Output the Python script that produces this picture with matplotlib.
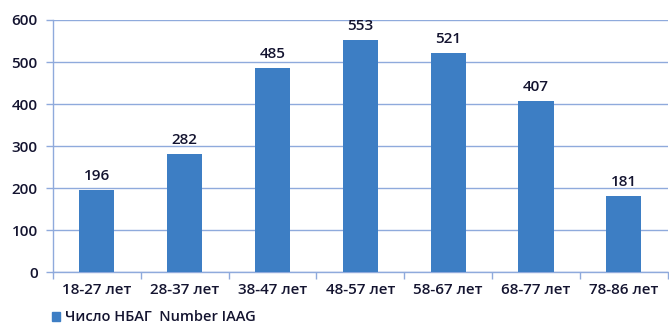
import matplotlib
matplotlib.use("Agg")
import matplotlib.pyplot as plt
from matplotlib.patches import Patch

categories = ["18-27 лет", "28-37 лет", "38-47 лет", "48-57 лет", "58-67 лет", "68-77 лет", "78-86 лет"]
values = [196, 282, 485, 553, 521, 407, 181]
series_label = "Число НБАГ  Number IAAG"
yticks = [0, 100, 200, 300, 400, 500, 600]

plt.rcParams['font.family'] = ['Open Sans', 'DejaVu Sans']
bar_color = "#3D7EC4"
grid_color = "#8FAADC"
text_color = "#141430"
fs = 11
fw = "semibold"

fig = plt.figure(figsize=(6.69, 3.31), dpi=100)
ax = fig.add_axes([0.0792, 0.178, 0.919, 0.7616])
x = range(len(categories))
bars = ax.bar(x, values, width=0.4, color=bar_color, zorder=3)
for xi, v in zip(x, values):
    ax.annotate(str(v), (xi, v), xytext=(0, 5), textcoords="offset points",
                ha="center", va="bottom", fontsize=fs, fontweight=fw, color=text_color)

ax.set_xlim(-0.5, len(categories) - 0.5)
ax.set_ylim(0, 600)
ax.set_yticks(yticks)
ax.set_yticklabels([str(t) for t in yticks], fontsize=fs, fontweight=fw, color=text_color)
ax.yaxis.grid(True, color=grid_color, linewidth=1, zorder=0)
ax.set_xticks([i - 0.5 for i in range(len(categories) + 1)])
ax.set_xticklabels([])
ax.set_xticks(list(x), minor=True)
ax.set_xticklabels(categories, minor=True, fontsize=fs, fontweight=fw, color=text_color)
ax.tick_params(axis="x", which="minor", length=0, pad=8)
ax.tick_params(axis="x", which="major", length=5, color=grid_color, width=1)
ax.tick_params(axis="y", length=5, color=grid_color, width=1, pad=6)
for s in ["top", "right"]:
    ax.spines[s].set_visible(False)
for s in ["left", "bottom"]:
    ax.spines[s].set_color(grid_color)
    ax.spines[s].set_linewidth(1)

fig.legend(handles=[Patch(color=bar_color, label=series_label)], loc="lower left",
           bbox_to_anchor=(0.058, -0.02), frameon=False,
           prop={"size": 10.5, "weight": fw},
           handlelength=0.55, handleheight=0.55, handletextpad=0.35, labelcolor=text_color)
fig.savefig("out.png", dpi=100)
